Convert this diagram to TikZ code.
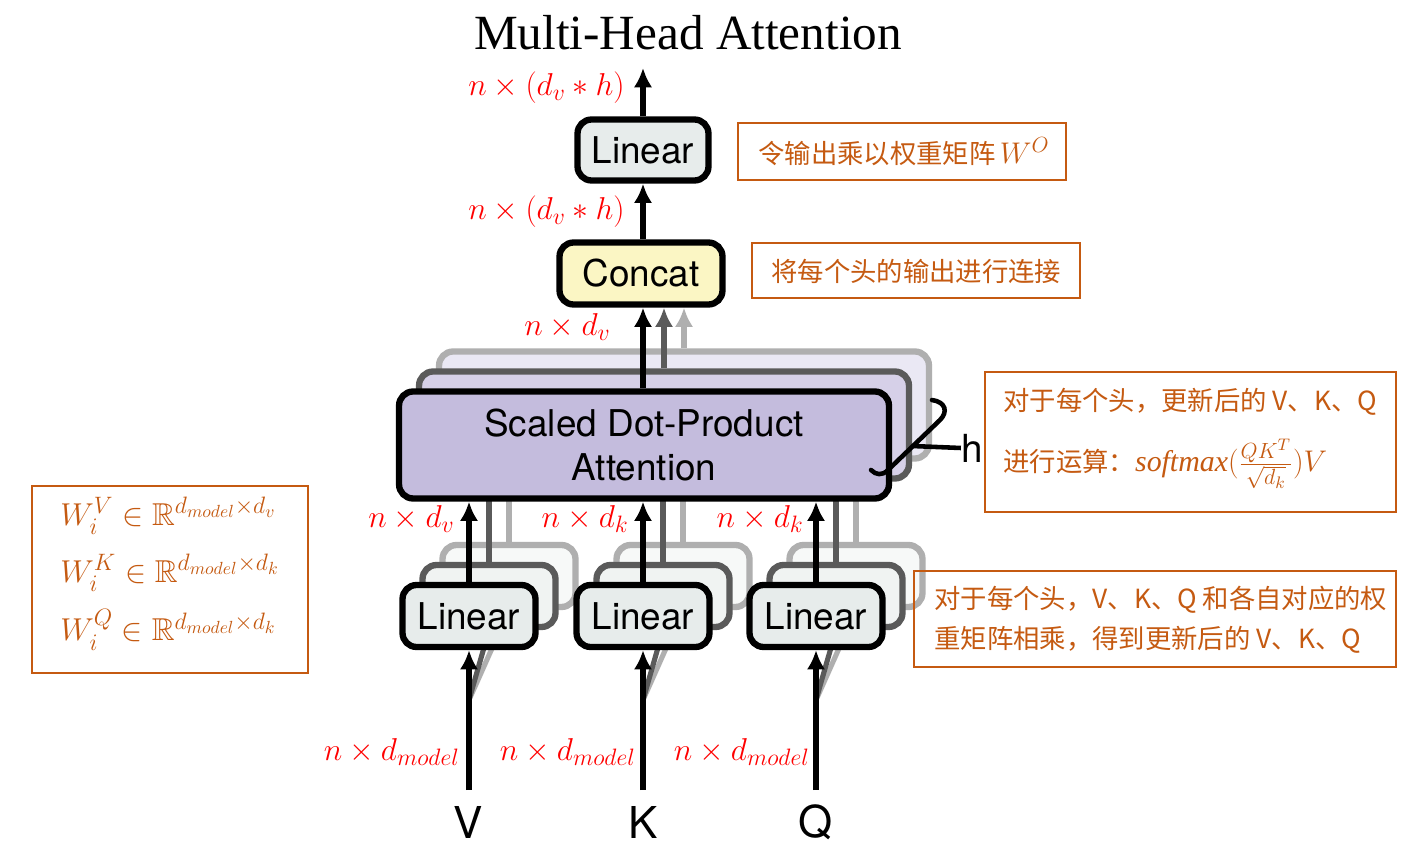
\RequirePackage{fix-cm}
\documentclass[tikz,border=0pt]{standalone}
\usepackage{amsmath,amssymb}
\usepackage{fontspec}
\setmainfont{Liberation Serif}
\setsansfont{TeX Gyre Heros}
\newfontfamily\cjk{Noto Sans CJK SC}
\usetikzlibrary{arrows.meta}
\DeclareMathSizes{18}{18}{13.5}{10}
\DeclareMathSizes{17}{17}{12.5}{9.5}
\definecolor{orng}{RGB}{197,90,17}
\definecolor{linfill}{RGB}{231,236,235}
\definecolor{linfill2}{RGB}{240,243,242}
\definecolor{linfill3}{RGB}{247,249,248}
\definecolor{catfill}{RGB}{251,246,196}
\definecolor{attfill}{RGB}{196,188,221}
\definecolor{attfill2}{RGB}{214,208,232}
\definecolor{attfill3}{RGB}{234,232,244}
\definecolor{dgray}{RGB}{90,90,90}
\definecolor{lgray}{RGB}{175,175,175}
\tikzset{
  box/.style={draw, line width=3.6pt, rounded corners=8pt, inner sep=0pt, align=center,
    font=\sffamily\fontsize{21}{25.5}\selectfont},
  linbox/.style={box, fill=linfill, minimum width=2.66cm, minimum height=1.24cm},
  attbox/.style={box, fill=attfill, minimum width=9.8cm, minimum height=2.14cm},
  arr/.style={line width=2.9pt, -{Latex[length=11pt,width=10.5pt]}},
  gline/.style={line width=2.9pt},
  note/.style={draw=orng, line width=0.9pt, inner sep=0pt},
  lbl/.style={text=red, font=\fontsize{18}{21}\selectfont, inner sep=0pt},
  cn/.style={text=orng, font=\cjk\fontsize{15}{18}\selectfont, inner sep=0pt, anchor=west},
  om/.style={text=orng, font=\fontsize{18}{21}\selectfont, inner sep=0pt, anchor=west},
  big/.style={font=\sffamily\fontsize{25}{30}\selectfont, inner sep=0pt}
}
\begin{document}
\begin{tikzpicture}[x=0.02cm, y=-0.02cm]
\useasboundingbox[fill=white] (0,0) rectangle (1412,857);

% title
\node[font=\fontsize{28}{32}\selectfont, inner sep=0pt] (title) at (688,33) {Multi-Head Attention};

% ---------- Linear stacks ----------
\foreach \n/\x in {v/469,k/643,q/816}{
  \coordinate (\n in) at (\x,790);
  \coordinate (\n fork) at (\x,700);
  \node[linbox, draw=lgray, fill=linfill3] (l\n3) at (\x+40,576) {};
  \node[linbox, draw=dgray, fill=linfill2] (l\n2) at (\x+20,596) {};
  \draw[gline, lgray] (\n fork) -- (l\n3.south);
  \draw[gline, dgray] (\n fork) -- (l\n2.south);
}

% ---------- Attention stack ----------
\node[attbox, draw=lgray, fill=attfill3] (att3) at (684,405) {};
\node[attbox, draw=dgray, fill=attfill2] (att2) at (664,425) {};
\foreach \n in {v,k,q}{
  \draw[gline, lgray] (l\n3.north) -- (l\n3.north |- att3.south);
  \draw[gline, dgray] (l\n2.north) -- (l\n2.north |- att2.south);
}
\node[attbox] (att) at (644,445) {Scaled Dot-Product\\Attention};

% front linear boxes
\node[linbox] (lv) at (469,616) {Linear};
\node[linbox] (lk) at (643,616) {Linear};
\node[linbox] (lq) at (816,616) {Linear};

\foreach \n in {v,k,q}{
  \draw[arr] (\n in) -- (l\n.south);
  \draw[arr] (l\n.north) -- (l\n.north |- att.south);
}

% concat and output linear
\node[box, fill=catfill, minimum width=3.26cm, minimum height=1.24cm] (concat) at (641,273.5) {Concat};
\node[box, fill=linfill, minimum width=2.62cm, minimum height=1.22cm] (lo) at (643,150) {Linear};
\coordinate (out) at (643,68);

\draw[arr, lgray] (att3.north -| 684,0) -- (684,0 |- concat.south);
\draw[arr, dgray] (att2.north -| 664,0) -- (664,0 |- concat.south);
\draw[arr] (att.north -| 643,0) -- (643,0 |- concat.south);
\draw[arr] (643,0 |- concat.north) -- (lo.south);
\draw[arr] (lo.north) -- (out);

% brace and h
\coordinate (bt) at (932,400);
\coordinate (bb) at (871,470);
\draw[line width=2.6pt, line cap=round] (bt) .. controls (946,402) and (948,412) .. (940,420)
   -- (888,470) .. controls (882,476) and (876,475) .. (bb);
\coordinate (ht) at (912,446);
\node[big, font=\sffamily\fontsize{22}{26}\selectfont] (h) at (972,448) {h};
\draw[line width=2.6pt] (ht) -- (h.west);

% inputs V K Q
\node[big] (V) at (468,822) {V};
\node[big] (K) at (643,822) {K};
\node[big] (Q) at (816,822) {Q};

% red labels
\node[lbl, anchor=east] (t1) at (625,88) {$n\times(d_v * h)$};
\node[lbl, anchor=east] (t2) at (625,212) {$n\times(d_v * h)$};
\node[lbl, anchor=east] (t3) at (611,327) {$n\times d_v$};
\node[lbl, anchor=east] (m1) at (455,519) {$n\times d_v$};
\node[lbl, anchor=east] (m2) at (629,519) {$n\times d_k$};
\node[lbl, anchor=east] (m3) at (804,519) {$n\times d_k$};
\node[lbl, anchor=east] (b1) at (460,752) {$n\times d_{model}$};
\node[lbl, anchor=east] (b2) at (636,752) {$n\times d_{model}$};
\node[lbl, anchor=east] (b3) at (810,752) {$n\times d_{model}$};

% orange notes
\node[note, minimum width=6.56cm, minimum height=1.14cm] (n1) at (902,151.5) {};
\node[cn] (n1t) at (758,152) {令输出乘以权重矩阵\,{\fontsize{17}{20}\selectfont$W^O$}};

\node[note, minimum width=6.56cm, minimum height=1.1cm] (n2) at (916,270.5) {};
\node[cn] (n2t) at (771,271) {将每个头的输出进行连接};

\node[note, minimum width=8.22cm, minimum height=2.8cm] (n3) at (1190.5,442) {};
\node[cn] (n3a) at (1003,402) {对于每个头，更新后的 V、K、Q};
\node[cn] (n3b) at (1003,464) {进行运算：{\fontsize{17}{20}\selectfont$\mathit{softmax}(\frac{QK^T}{\sqrt{d_k}})V$}};

\node[note, minimum width=9.64cm, minimum height=1.92cm] (n4) at (1155,619) {};
\node[cn] (n4a) at (934,600) {对于每个头，V、K、Q 和各自对应的权};
\node[cn] (n4b) at (934,640) {重矩阵相乘，得到更新后的 V、K、Q};

\node[note, minimum width=5.52cm, minimum height=3.74cm] (n5) at (170,579.5) {};
\node[om] (w1) at (60,516) {$W_i^V\in\mathbb{R}^{d_{model}\times d_v}$};
\node[om] (w2) at (60,573) {$W_i^K\in\mathbb{R}^{d_{model}\times d_k}$};
\node[om] (w3) at (60,630) {$W_i^Q\in\mathbb{R}^{d_{model}\times d_k}$};
\end{tikzpicture}
\end{document}
